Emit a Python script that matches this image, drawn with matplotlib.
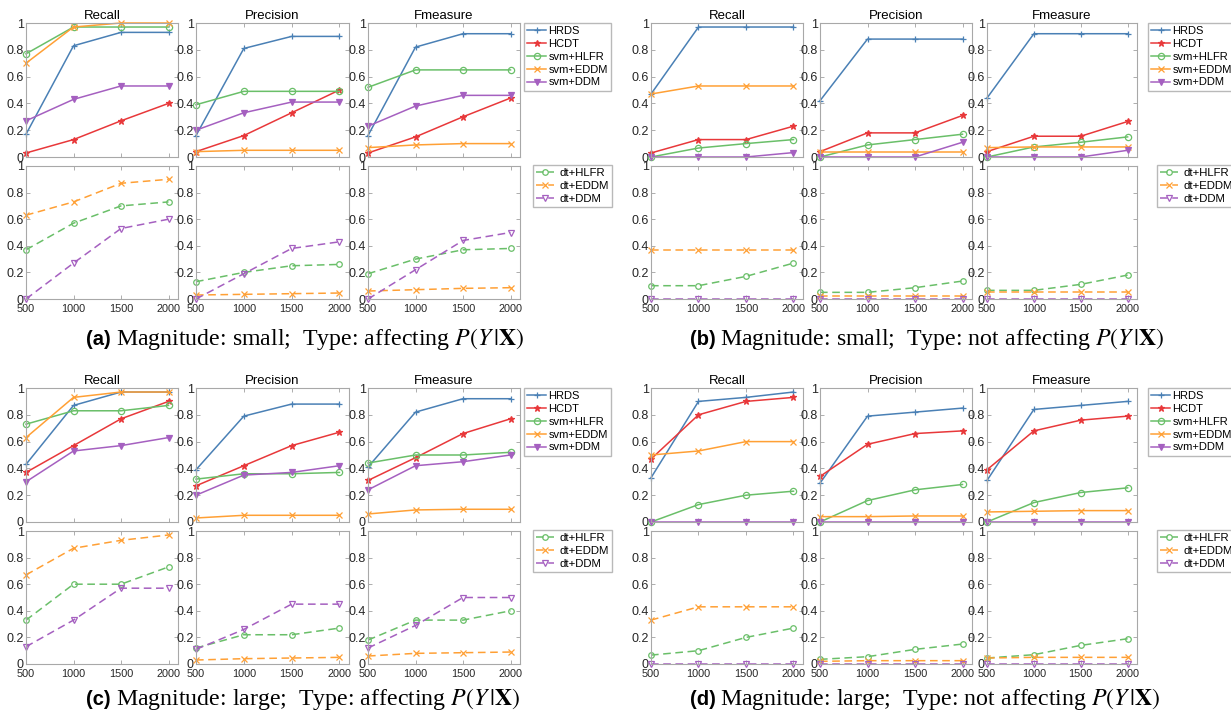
import matplotlib
matplotlib.use('Agg')
import matplotlib.pyplot as plt

sizes = [500, 1000, 1500, 2000]
top_names = ['HRDS', 'HCDT', 'svm+HLFR', 'svm+EDDM', 'svm+DDM']
bot_names = ['dt+HLFR', 'dt+EDDM', 'dt+DDM']
metrics = ['Recall', 'Precision', 'Fmeasure']

# (a) magnitude small, affecting
a_recall = [[0.17, 0.83, 0.93, 0.93], [0.03, 0.13, 0.27, 0.40], [0.77, 0.97, 0.97, 0.97],
            [0.70, 0.97, 1.00, 1.00], [0.27, 0.43, 0.53, 0.53]]
a_precision = [[0.16, 0.81, 0.90, 0.90], [0.04, 0.16, 0.33, 0.50], [0.39, 0.49, 0.49, 0.49],
               [0.04, 0.05, 0.05, 0.05], [0.20, 0.33, 0.41, 0.41]]
a_fmeasure = [[0.16, 0.82, 0.92, 0.92], [0.03, 0.15, 0.30, 0.44], [0.52, 0.65, 0.65, 0.65],
              [0.07, 0.09, 0.10, 0.10], [0.23, 0.38, 0.46, 0.46]]
a_dt_recall = [[0.37, 0.57, 0.70, 0.73], [0.63, 0.73, 0.87, 0.90], [0.00, 0.27, 0.53, 0.60]]
a_dt_precision = [[0.13, 0.20, 0.25, 0.26], [0.03, 0.035, 0.04, 0.045], [0.00, 0.19, 0.38, 0.43]]
a_dt_fmeasure = [[0.19, 0.30, 0.37, 0.38], [0.06, 0.07, 0.08, 0.085], [0.00, 0.22, 0.44, 0.50]]

# (b) magnitude small, not affecting
b_recall = [[0.47, 0.97, 0.97, 0.97], [0.03, 0.13, 0.13, 0.23], [0.00, 0.067, 0.10, 0.13],
            [0.47, 0.53, 0.53, 0.53], [0.00, 0.00, 0.00, 0.033]]
b_precision = [[0.42, 0.88, 0.88, 0.88], [0.04, 0.18, 0.18, 0.31], [0.00, 0.09, 0.13, 0.17],
               [0.04, 0.04, 0.04, 0.04], [0.00, 0.00, 0.00, 0.11]]
b_fmeasure = [[0.44, 0.92, 0.92, 0.92], [0.04, 0.155, 0.155, 0.265], [0.00, 0.075, 0.11, 0.15],
              [0.07, 0.075, 0.075, 0.075], [0.00, 0.00, 0.00, 0.05]]
b_dt_recall = [[0.10, 0.10, 0.17, 0.27], [0.37, 0.37, 0.37, 0.37], [0.0, 0.0, 0.0, 0.0]]
b_dt_precision = [[0.05, 0.05, 0.085, 0.135], [0.025, 0.025, 0.025, 0.025], [0.0, 0.0, 0.0, 0.0]]
b_dt_fmeasure = [[0.065, 0.065, 0.11, 0.18], [0.05, 0.05, 0.05, 0.05], [0.0, 0.0, 0.0, 0.0]]

# (c) magnitude large, affecting
c_recall = [[0.43, 0.87, 0.97, 0.97], [0.37, 0.57, 0.77, 0.90], [0.73, 0.83, 0.83, 0.87],
            [0.63, 0.93, 0.97, 0.97], [0.30, 0.53, 0.57, 0.63]]
c_precision = [[0.39, 0.79, 0.88, 0.88], [0.27, 0.42, 0.57, 0.67], [0.32, 0.36, 0.36, 0.37],
               [0.03, 0.05, 0.05, 0.05], [0.20, 0.35, 0.37, 0.42]]
c_fmeasure = [[0.41, 0.82, 0.92, 0.92], [0.31, 0.48, 0.66, 0.77], [0.44, 0.50, 0.50, 0.52],
              [0.06, 0.09, 0.095, 0.095], [0.24, 0.42, 0.45, 0.50]]
c_dt_recall = [[0.33, 0.60, 0.60, 0.73], [0.67, 0.87, 0.93, 0.97], [0.13, 0.33, 0.57, 0.57]]
c_dt_precision = [[0.12, 0.22, 0.22, 0.27], [0.03, 0.04, 0.045, 0.05], [0.11, 0.26, 0.45, 0.45]]
c_dt_fmeasure = [[0.18, 0.33, 0.33, 0.40], [0.06, 0.08, 0.085, 0.09], [0.12, 0.29, 0.50, 0.50]]

# (d) magnitude large, not affecting
d_recall = [[0.33, 0.90, 0.93, 0.97], [0.47, 0.80, 0.90, 0.93], [0.00, 0.13, 0.20, 0.23],
            [0.50, 0.53, 0.60, 0.60], [0.0, 0.0, 0.0, 0.0]]
d_precision = [[0.29, 0.79, 0.82, 0.85], [0.34, 0.58, 0.66, 0.68], [0.00, 0.16, 0.24, 0.28],
               [0.04, 0.04, 0.045, 0.045], [0.0, 0.0, 0.0, 0.0]]
d_fmeasure = [[0.31, 0.84, 0.87, 0.90], [0.39, 0.68, 0.76, 0.79], [0.00, 0.145, 0.22, 0.255],
              [0.075, 0.08, 0.085, 0.085], [0.0, 0.0, 0.0, 0.0]]
d_dt_recall = [[0.067, 0.10, 0.20, 0.27], [0.33, 0.43, 0.43, 0.43], [0.0, 0.0, 0.0, 0.0]]
d_dt_precision = [[0.035, 0.055, 0.11, 0.15], [0.02, 0.025, 0.025, 0.025], [0.0, 0.0, 0.0, 0.0]]
d_dt_fmeasure = [[0.045, 0.07, 0.14, 0.19], [0.045, 0.05, 0.05, 0.05], [0.0, 0.0, 0.0, 0.0]]

captions = {'a': ('(a)', 'Magnitude: small;  Type: affecting $P(Y\\,|\\mathbf{X})$'),
            'b': ('(b)', 'Magnitude: small;  Type: not affecting $P(Y\\,|\\mathbf{X})$'),
            'c': ('(c)', 'Magnitude: large;  Type: affecting $P(Y\\,|\\mathbf{X})$'),
            'd': ('(d)', 'Magnitude: large;  Type: not affecting $P(Y\\,|\\mathbf{X})$')}

blue, red, green, orange, purple = '#4a80b5', '#e8383a', '#6abf69', '#ffa035', '#a560c0'
top_style = [(blue, '+'), (red, '*'), (green, 'o'), (orange, 'x'), (purple, 'v')]
bot_style = [(green, 'o'), (orange, 'x'), (purple, 'v')]

plt.rcParams['font.family'] = ['Liberation Sans', 'DejaVu Sans']
plt.rcParams['mathtext.fontset'] = 'stix'

W, H = 1231, 713
fig = plt.figure(figsize=(W / 100, H / 100), dpi=100)


def box(x0, y0, x1, y1):
    return [x0 / W, 1 - y1 / H, (x1 - x0) / W, (y1 - y0) / H]


def style_ax(ax, xlabels):
    ax.set_xlim(500, 2100)
    ax.set_ylim(0, 1)
    ax.set_xticks(sizes)
    ax.set_yticks([0, 0.2, 0.4, 0.6, 0.8, 1])
    ax.set_yticklabels(['0', '0.2', '0.4', '0.6', '0.8', '1'])
    ax.tick_params(direction='in', top=True, right=True, length=3, width=0.6,
                   color='#a0a0a0', labelcolor='#262626', labelsize=9, pad=1.5)
    ax.tick_params(axis='x', labelsize=7.8, pad=3.5)
    if not xlabels:
        ax.set_xticklabels([])
    for s in ax.spines.values():
        s.set_color('#a8a8a8')
        s.set_linewidth(0.8)


def add_legend(ax, anchor_x, anchor_y, size, hlen, hpad):
    ax.legend(loc='upper left', bbox_to_anchor=(anchor_x, anchor_y), fontsize=size,
              frameon=True, fancybox=False, edgecolor='#a8a8a8', borderpad=0.3,
              labelspacing=0.25, handlelength=hlen, handletextpad=hpad, borderaxespad=0)


def draw_panel(key, cols, ytop, top_data, bot_data, leg_x, cap_x, cap_y):
    for i, (x0, x1) in enumerate(cols):
        ax = fig.add_axes(box(x0, ytop, x1, ytop + 134))
        for (c, m), vals, name in zip(top_style, top_data[i], top_names):
            fc = c if m in ('*', 'v') else 'none'
            ax.plot(sizes, vals, color=c, marker=m, markersize=4.5, markerfacecolor=fc,
                    markeredgewidth=0.9, linewidth=1.1, label=name, clip_on=False)
        ax.set_title(metrics[i], fontsize=9.5, pad=3)
        style_ax(ax, False)
        if i == 2:
            add_legend(ax, (leg_x - x0) / (x1 - x0), 1.0, 8.0, 1.7, 0.2)

        bx = fig.add_axes(box(x0, ytop + 143, x1, ytop + 276))
        for (c, m), vals, name in zip(bot_style, bot_data[i], bot_names):
            bx.plot(sizes, vals, color=c, marker=m, markersize=4, markerfacecolor='none',
                    markeredgewidth=0.9, linewidth=1.1, linestyle=(0, (5, 3)), label=name,
                    clip_on=False)
        style_ax(bx, True)
        if i == 2:
            add_legend(bx, (leg_x + 9 - x0) / (x1 - x0), 1.01, 8.2, 1.5, 0.5)

    tag, text = captions[key]
    fig.text(cap_x / W, 1 - cap_y / H, tag, fontsize=14.5, fontweight='bold',
             ha='left', va='baseline')
    fig.text((cap_x + 30) / W, 1 - cap_y / H, text, fontsize=17.2,
             family='Liberation Serif', ha='left', va='baseline')


left_cols = [(26, 178), (196, 349), (368, 520)]
right_cols = [(651, 803), (820, 972), (987, 1137)]

draw_panel('a', left_cols, 23, [a_recall, a_precision, a_fmeasure],
           [a_dt_recall, a_dt_precision, a_dt_fmeasure], 524, 86, 345)
draw_panel('b', right_cols, 23, [b_recall, b_precision, b_fmeasure],
           [b_dt_recall, b_dt_precision, b_dt_fmeasure], 1148, 690, 345)
draw_panel('c', left_cols, 388, [c_recall, c_precision, c_fmeasure],
           [c_dt_recall, c_dt_precision, c_dt_fmeasure], 524, 86, 705)
draw_panel('d', right_cols, 388, [d_recall, d_precision, d_fmeasure],
           [d_dt_recall, d_dt_precision, d_dt_fmeasure], 1148, 690, 705)

fig.savefig('out.png', dpi=100)
